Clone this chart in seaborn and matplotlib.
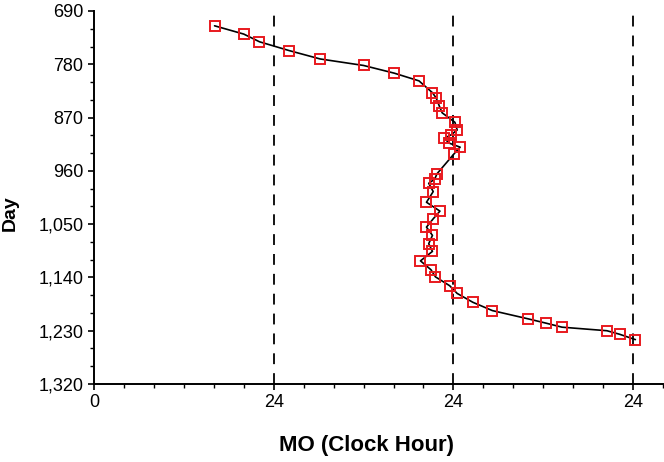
import matplotlib
matplotlib.use("Agg")
import matplotlib.pyplot as plt
import numpy as np
import pandas as pd
import seaborn as sns
from matplotlib.ticker import FuncFormatter, MultipleLocator

# MO clock hour (unwrapped) and day of observation
mo_hour = [16.1, 20.0, 22.1, 26.1, 30.2, 36.0, 40.1, 43.4, 45.2, 45.7, 46.1, 46.5,
           48.2, 48.5, 47.7, 46.8, 47.4, 48.9, 48.1, 45.8, 45.5, 44.7, 45.3, 44.4,
           46.2, 45.3, 44.4, 45.2, 44.7, 45.2, 43.6, 45.0, 45.6, 47.5, 48.5, 50.6,
           53.2, 58.0, 60.3, 62.5, 68.5, 70.2, 72.3]
day = [715, 729, 742, 757, 771, 782, 795, 808, 828, 837, 850, 862,
       878, 891, 899, 905, 913, 920, 931, 965, 974, 981, 995, 1013,
       1028, 1041, 1055, 1069, 1083, 1096, 1112, 1127, 1139, 1154, 1167, 1182,
       1196, 1210, 1217, 1224, 1230, 1236, 1245]

x_ticks = [0, 24, 48, 72]
x_tick_labels = ["0", "24", "24", "24"]
day_marks = [24, 48, 72]

df = pd.DataFrame({"hour": mo_hour, "day": day})

sns.set_theme(style="ticks")
plt.rcParams["font.family"] = ["Liberation Sans", "DejaVu Sans"]
plt.rcParams["text.color"] = "black"
plt.rcParams["axes.labelcolor"] = "black"
plt.rcParams["xtick.color"] = "black"
plt.rcParams["ytick.color"] = "black"

fig = plt.figure(figsize=(6.64, 4.62), dpi=100)
ax = fig.add_axes([0.1416, 0.1688, 0.857, 0.8074])

for xv in day_marks:
    ax.axvline(xv, color="black", linestyle=(0, (6, 5)), linewidth=1.3, zorder=1)

sns.lineplot(data=df, x="hour", y="day", sort=False, estimator=None, color="black",
             linewidth=1.2, marker="s", markersize=7, markerfacecolor="none",
             markeredgecolor="#e8191e", markeredgewidth=1.4, ax=ax, zorder=3)

ax.set_xlim(0, 76)
ax.set_ylim(1320, 690)
ax.set_xticks(x_ticks)
ax.set_xticklabels(x_tick_labels)
ax.xaxis.set_minor_locator(MultipleLocator(4))
ax.set_yticks(np.arange(690, 1321, 90))
ax.yaxis.set_minor_locator(MultipleLocator(30))
ax.yaxis.set_major_formatter(FuncFormatter(lambda v, p: f"{v:,.0f}"))

ax.tick_params(axis="both", which="major", length=4, width=1.2, labelsize=13)
ax.tick_params(axis="both", which="minor", length=3, width=1.0)
for s in ["left", "bottom"]:
    ax.spines[s].set_linewidth(1.4)
    ax.spines[s].set_color("black")
sns.despine(ax=ax)

ax.set_xlabel("MO (Clock Hour)", fontsize=16, fontweight="bold")
ax.set_ylabel("Day", fontsize=14, fontweight="bold")
ax.xaxis.set_label_coords(0.479, -0.137)
ax.yaxis.set_label_coords(-0.132, 0.458)

fig.savefig("out.png", dpi=100)
